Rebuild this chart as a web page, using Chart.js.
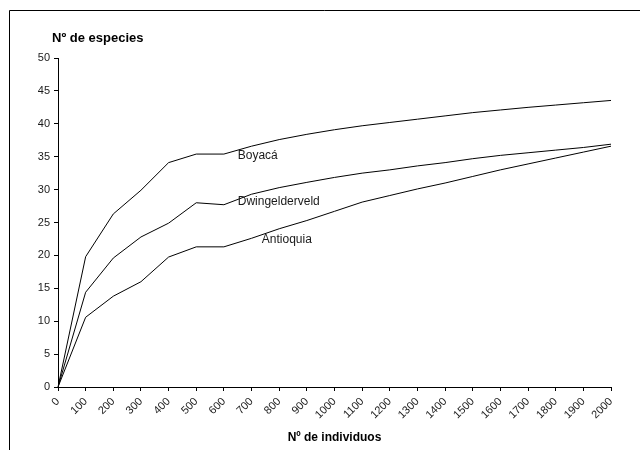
<!DOCTYPE html>
<html>
<head>
<meta charset="utf-8">
<script src="https://cdn.jsdelivr.net/npm/chart.js@4/dist/chart.umd.min.js"></script>
<style>
  html, body { margin: 0; padding: 0; background: #fff; }
  #wrap { width: 640px; height: 450px; }
</style>
</head>
<body>
<div id="wrap"><canvas id="c" width="640" height="450"></canvas></div>
<script>
// Species accumulation: number of species vs number of individuals sampled
const individuos = ['0','100','200','300','400','500','600','700','800','900','1000',
                    '1100','1200','1300','1400','1500','1600','1700','1800','1900','2000'];
const boyaca = [0, 19.8, 26.3, 29.9, 34.1, 35.4, 35.4, 36.6, 37.6, 38.4, 39.1,
                39.7, 40.2, 40.7, 41.2, 41.7, 42.1, 42.5, 42.85, 43.2, 43.55];
const dwingelderveld = [0, 14.4, 19.6, 22.8, 24.9, 28.0, 27.7, 29.3, 30.3, 31.1, 31.85,
                        32.5, 33.0, 33.6, 34.1, 34.7, 35.2, 35.6, 36.0, 36.4, 36.9];
const antioquia = [0, 10.6, 13.8, 16.0, 19.75, 21.3, 21.3, 22.6, 24.05, 25.3, 26.7,
                   28.1, 29.1, 30.1, 31.0, 32.0, 33.0, 33.9, 34.8, 35.7, 36.6];
const seriesNames = ['Boyacá', 'Dwingelderveld', 'Antioquia'];
const yTicks = [0, 5, 10, 15, 20, 25, 30, 35, 40, 45, 50];

const FONT = '"Liberation Sans", Arial, sans-serif';
const INK = '#1a1a1a';

// Outer frame, y heading and curve names drawn on the canvas
const decorations = {
  id: 'decorations',
  afterDraw(chart) {
    const ctx = chart.ctx;
    const x = chart.scales.x, y = chart.scales.y;
    ctx.save();
    ctx.strokeStyle = '#000';
    ctx.lineWidth = 1;
    ctx.beginPath();
    ctx.moveTo(9.5, 450);
    ctx.lineTo(9.5, 10.5);
    ctx.lineTo(640, 10.5);
    ctx.stroke();

    ctx.fillStyle = '#000';
    ctx.font = 'bold 13px ' + FONT;
    ctx.textAlign = 'left';
    ctx.textBaseline = 'middle';
    ctx.fillText('Nº de especies', 52, 38);

    // curve names placed just right of the plateau at 500–600 individuals
    ctx.font = '12px ' + FONT;
    ctx.fillStyle = INK;
    const nameSpots = [[6.5, 35.15], [6.5, 28.2], [7.37, 22.4]];
    seriesNames.forEach((name, i) => {
      const [idx, val] = nameSpots[i];
      const px = x.getPixelForValue(0) + idx * (x.getPixelForValue(1) - x.getPixelForValue(0));
      ctx.fillText(name, px, y.getPixelForValue(val));
    });
    ctx.restore();
  }
};

const lineStyle = {
  borderColor: '#000',
  borderWidth: 1,
  pointRadius: 0,
  tension: 0,
  fill: false
};

new Chart(document.getElementById('c'), {
  type: 'line',
  data: {
    labels: individuos,
    datasets: [
      Object.assign({ label: seriesNames[0], data: boyaca }, lineStyle),
      Object.assign({ label: seriesNames[1], data: dwingelderveld }, lineStyle),
      Object.assign({ label: seriesNames[2], data: antioquia }, lineStyle)
    ]
  },
  options: {
    responsive: false,
    animation: false,
    layout: { padding: { top: 58, right: 29, left: 0, bottom: 0 } },
    plugins: {
      legend: { display: false },
      tooltip: { enabled: false },
      title: { display: false }
    },
    scales: {
      x: {
        type: 'category',
        offset: false,
        grid: { drawOnChartArea: false, drawTicks: true, tickLength: 4, color: '#000' },
        border: { color: '#000', width: 1 },
        ticks: {
          color: INK,
          font: { family: FONT, size: 11 },
          minRotation: 45,
          maxRotation: 45,
          autoSkip: false,
          padding: 4
        },
        title: {
          display: true,
          text: 'Nº de individuos',
          color: '#000',
          font: { family: FONT, size: 12, weight: 'bold' },
          padding: { top: 0, bottom: 5 }
        },
        afterFit(scale) { scale.height = 63; }
      },
      y: {
        min: 0,
        max: 50,
        afterBuildTicks(scale) { scale.ticks = yTicks.map(v => ({ value: v })); },
        grid: { drawOnChartArea: false, drawTicks: true, tickLength: 4, color: '#000' },
        border: { color: '#000', width: 1 },
        ticks: {
          color: INK,
          font: { family: FONT, size: 11 },
          padding: 4
        },
        afterFit(scale) { scale.width = 58; }
      }
    }
  },
  plugins: [decorations]
});
</script>
</body>
</html>
